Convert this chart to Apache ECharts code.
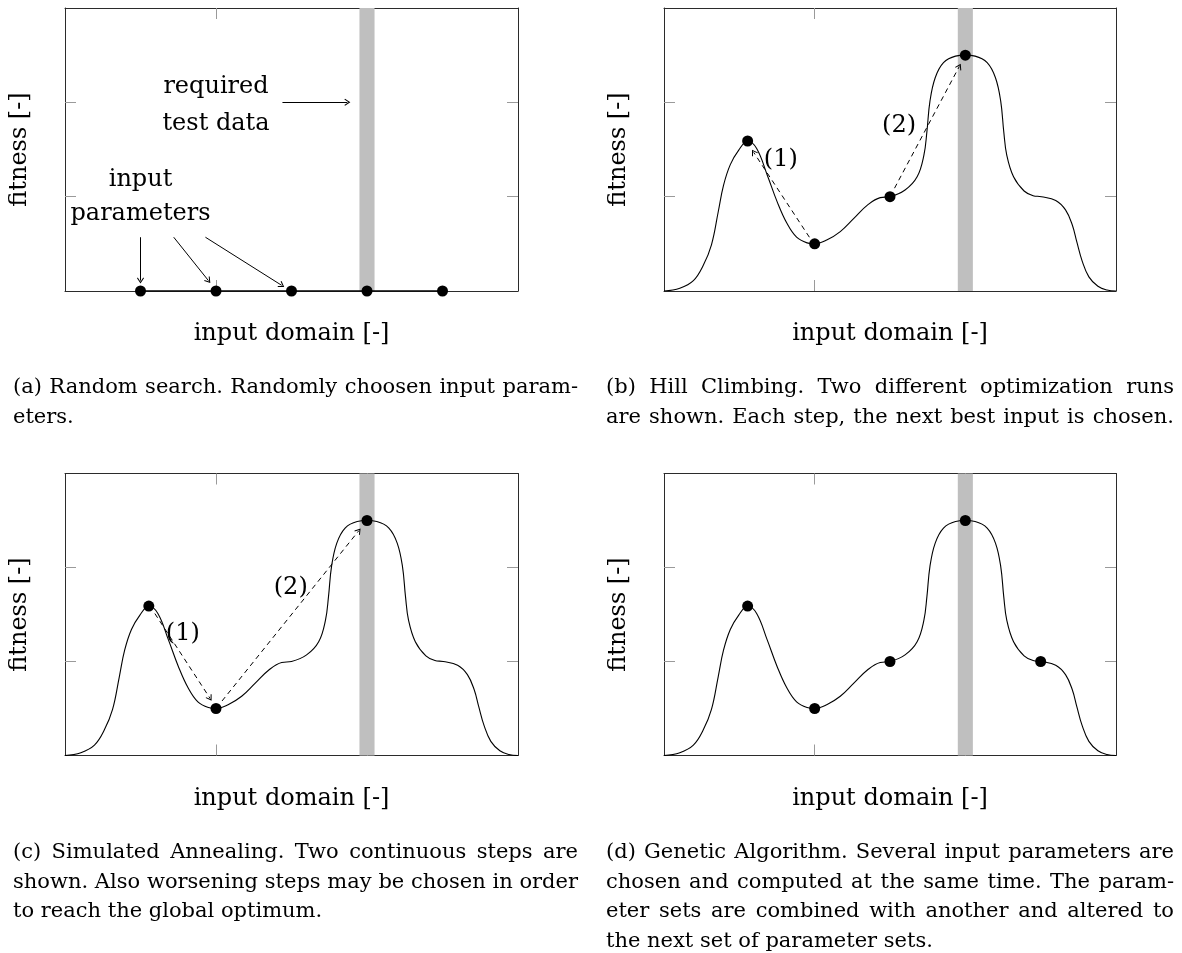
<!DOCTYPE html>
<html>
<head>
<meta charset="utf-8">
<script src="https://cdn.jsdelivr.net/npm/echarts@6/dist/echarts.min.js"></script>
<style>html,body{margin:0;padding:0;background:#fff}#c{width:1182px;height:953px}</style>
</head>
<body>
<div id="c"></div>
<script>
// ---------- data ----------
const curveX = [0.00,0.21,0.39,0.52,0.63,0.72,0.79,0.88,0.99,1.11,1.23,1.37,1.50,1.63,1.76,1.90,2.00,2.16,2.34,2.52,2.70,2.87,3.00,3.20,3.36,3.45,3.49,3.53,3.60,3.71,3.87,4.00,4.13,4.29,4.40,4.47,4.51,4.55,4.64,4.78,4.90,5.01,5.20,5.33,5.42,5.48,5.55,5.64,5.76,5.88,6.00];
const curveY = [0.00,0.03,0.11,0.27,0.49,0.84,1.12,1.34,1.49,1.59,1.51,1.23,0.95,0.72,0.57,0.51,0.50,0.54,0.63,0.77,0.91,0.99,1.00,1.07,1.21,1.44,1.69,2.01,2.26,2.42,2.49,2.50,2.49,2.42,2.26,2.01,1.69,1.44,1.21,1.06,1.01,1.00,0.96,0.86,0.70,0.52,0.32,0.15,0.05,0.01,0.00];
const flatX = [1, 5];
const flatY = [0, 0];
const dotsAX = [1, 2, 3, 4, 5];
const dotsAY = [0, 0, 0, 0, 0];
const dotsBX = [1.11, 2, 3, 4];
const dotsBY = [1.59, 0.5, 1, 2.5];
const dotsCX = [1.11, 2, 4];
const dotsCY = [1.59, 0.5, 2.5];
const dotsDX = [1.11, 2, 3, 4, 5];
const dotsDY = [1.59, 0.5, 1, 2.5, 1];
const bandRange = [3.9, 4.1];
const xTicks = [2, 4];
const yTicks = [1, 2];
const xName = 'input domain [-]';
const yName = 'fitness [-]';
// annotation arrows [x1, y1, x2, y2] in data units
const arrowsA = [[2.88, 2.0, 3.74, 2.0], [1.0, 0.57, 1.0, 0.11], [1.44, 0.57, 1.90, 0.11], [1.86, 0.57, 2.87, 0.06]];
const arrowsB = [[1.93, 0.57, 1.19, 1.47], [3.06, 1.09, 3.92, 2.38]];
const arrowsC = [[1.19, 1.51, 1.92, 0.61], [2.08, 0.58, 3.89, 2.39]];
// annotation labels [text, x, y]
const labelsA = [['required', 2.0, 2.16], ['test data', 2.0, 1.77], ['input', 1.0, 1.18], ['parameters', 1.0, 0.815]];
const labelsB = [['(1)', 1.55, 1.39], ['(2)', 3.12, 1.75]];
const labelsC = [['(1)', 1.56, 1.30], ['(2)', 2.99, 1.78]];
// captions
const captionA = ['(a) Random search. Randomly choosen input param-', 'eters.'];
const captionB = ['(b) Hill Climbing. Two different optimization runs', 'are shown. Each step, the next best input is chosen.'];
const captionC = ['(c) Simulated Annealing. Two continuous steps are', 'shown. Also worsening steps may be chosen in order', 'to reach the global optimum.'];
const captionD = ['(d) Genetic Algorithm. Several input parameters are', 'chosen and computed at the same time. The param-', 'eter sets are combined with another and altered to', 'the next set of parameter sets.'];

// ---------- layout / styling ----------
const FONT = '"DejaVu Serif", serif';
const grids = [
  {left: 65, top: 8, width: 453, height: 283},
  {left: 664, top: 8, width: 452, height: 283},
  {left: 65, top: 473.5, width: 453, height: 282},
  {left: 664, top: 473.5, width: 452, height: 282}
];
const zip = (xs, ys) => xs.map((x, k) => [x, ys[k]]);
const chart = echarts.init(document.getElementById('c'), null, {renderer: 'canvas', width: 1182, height: 953});

const xAxes = [], yAxes = [], series = [];
const lineCol = '#2b2b2b', tickCol = '#9a9a9a';
grids.forEach((g, i) => {
  const xc = {type: 'value', gridIndex: i, min: 0, max: 6, interval: 2,
    axisLabel: {show: false}, splitLine: {show: false},
    axisLine: {show: true, onZero: false, lineStyle: {color: lineCol, width: 1}},
    axisTick: {show: true, inside: true, length: 11, customValues: xTicks, lineStyle: {color: tickCol, width: 1}}};
  xAxes.push(Object.assign({}, xc, {position: 'bottom', name: xName, nameLocation: 'middle', nameGap: 31,
    nameTextStyle: {fontFamily: FONT, fontSize: 24, color: '#000'}}));
  xAxes.push(Object.assign({}, xc, {position: 'top'}));
  const yc = {type: 'value', gridIndex: i, min: 0, max: 3, interval: 1,
    axisLabel: {show: false}, splitLine: {show: false},
    axisLine: {show: true, onZero: false, lineStyle: {color: lineCol, width: 1}},
    axisTick: {show: true, inside: true, length: 11, customValues: yTicks, lineStyle: {color: tickCol, width: 1}}};
  yAxes.push(Object.assign({}, yc, {position: 'left', name: yName, nameLocation: 'middle', nameGap: 33, nameRotate: 90,
    nameTextStyle: {fontFamily: FONT, fontSize: 24, color: '#000'}}));
  yAxes.push(Object.assign({}, yc, {position: 'right'}));

  // grey band (required test data)
  series.push({type: 'line', xAxisIndex: 2 * i, yAxisIndex: 2 * i, data: [], z: 1, silent: true,
    markArea: {silent: true, itemStyle: {color: '#bfbfbf'}, data: [[{xAxis: bandRange[0]}, {xAxis: bandRange[1]}]]}});
});

const arrowHead = 'path://M5,0 L10,7.5 L8.9,8.4 L5,2.6 L1.1,8.4 L0,7.5 Z';
function addPanel(i, lineData, smooth, dots, arrows, dashed, labels) {
  series.push({type: 'line', xAxisIndex: 2 * i, yAxisIndex: 2 * i, data: lineData, showSymbol: false,
    smooth: smooth, lineStyle: {color: '#000', width: smooth ? 1.1 : 1.5}, z: 3, silent: true});
  series.push({type: 'scatter', xAxisIndex: 2 * i, yAxisIndex: 2 * i, data: dots, symbolSize: 11,
    itemStyle: {color: '#000', opacity: 1}, z: 5, silent: true});
  if (arrows) {
    series.push({type: 'line', xAxisIndex: 2 * i, yAxisIndex: 2 * i, data: [], z: 4, silent: true,
      markLine: {silent: true, symbol: ['none', arrowHead], symbolSize: [7, 6], label: {show: false},
        lineStyle: {color: '#000', width: 1, opacity: 1, type: dashed ? [5, 4] : 'solid'},
        emphasis: {disabled: true},
        data: arrows.map(a => [{coord: [a[0], a[1]]}, {coord: [a[2], a[3]]}])}});
  }
  if (labels) {
    series.push({type: 'scatter', xAxisIndex: 2 * i, yAxisIndex: 2 * i, symbolSize: 1, z: 6, silent: true,
      itemStyle: {color: 'rgba(0,0,0,0)', opacity: 1},
      label: {show: true, position: 'inside', formatter: '{b}', fontFamily: FONT, fontSize: 24, color: '#000', opacity: 1},
      data: labels.map(l => ({name: l[0], value: [l[1], l[2]]}))});
  }
}
addPanel(0, zip(flatX, flatY), 0, zip(dotsAX, dotsAY), arrowsA, false, labelsA);
addPanel(1, zip(curveX, curveY), 0.4, zip(dotsBX, dotsBY), arrowsB, true, labelsB);
addPanel(2, zip(curveX, curveY), 0.4, zip(dotsCX, dotsCY), arrowsC, true, labelsC);
addPanel(3, zip(curveX, curveY), 0.4, zip(dotsDX, dotsDY), null, false, null);

// ---------- justified captions ----------
const capSize = 21;
const capFont = capSize + 'px "DejaVu Serif"';
const ctx = document.createElement('canvas').getContext('2d');
ctx.font = capFont;
const graphics = [];
function addCaption(lines, x0, x1, base0, lead, justifyAll) {
  lines.forEach((line, li) => {
    const words = line.split(' ');
    const widths = words.map(w => ctx.measureText(w).width);
    const total = widths.reduce((a, b) => a + b, 0);
    let gap = ctx.measureText(' ').width;
    const isLast = li === lines.length - 1;
    if ((!isLast || justifyAll) && words.length > 1) gap = (x1 - x0 - total) / (words.length - 1);
    let x = x0;
    const y = base0 + li * lead - 0.346 * capSize;
    words.forEach((w, k) => {
      graphics.push({type: 'text', x: x, y: y, silent: true,
        style: {text: w, font: capFont, fill: '#000', verticalAlign: 'middle', align: 'left'}});
      x += widths[k] + gap;
    });
  });
}
addCaption(captionA, 13, 578, 395, 30, false);
addCaption(captionB, 606, 1174, 395, 30, true);
addCaption(captionC, 13, 578, 860, 29.5, false);
addCaption(captionD, 606, 1174, 860, 29.5, false);

chart.setOption({
  animation: false,
  backgroundColor: '#fff',
  grid: grids.map(g => Object.assign({containLabel: false}, g)),
  xAxis: xAxes,
  yAxis: yAxes,
  series: series,
  graphic: graphics
});
</script>
</body>
</html>
